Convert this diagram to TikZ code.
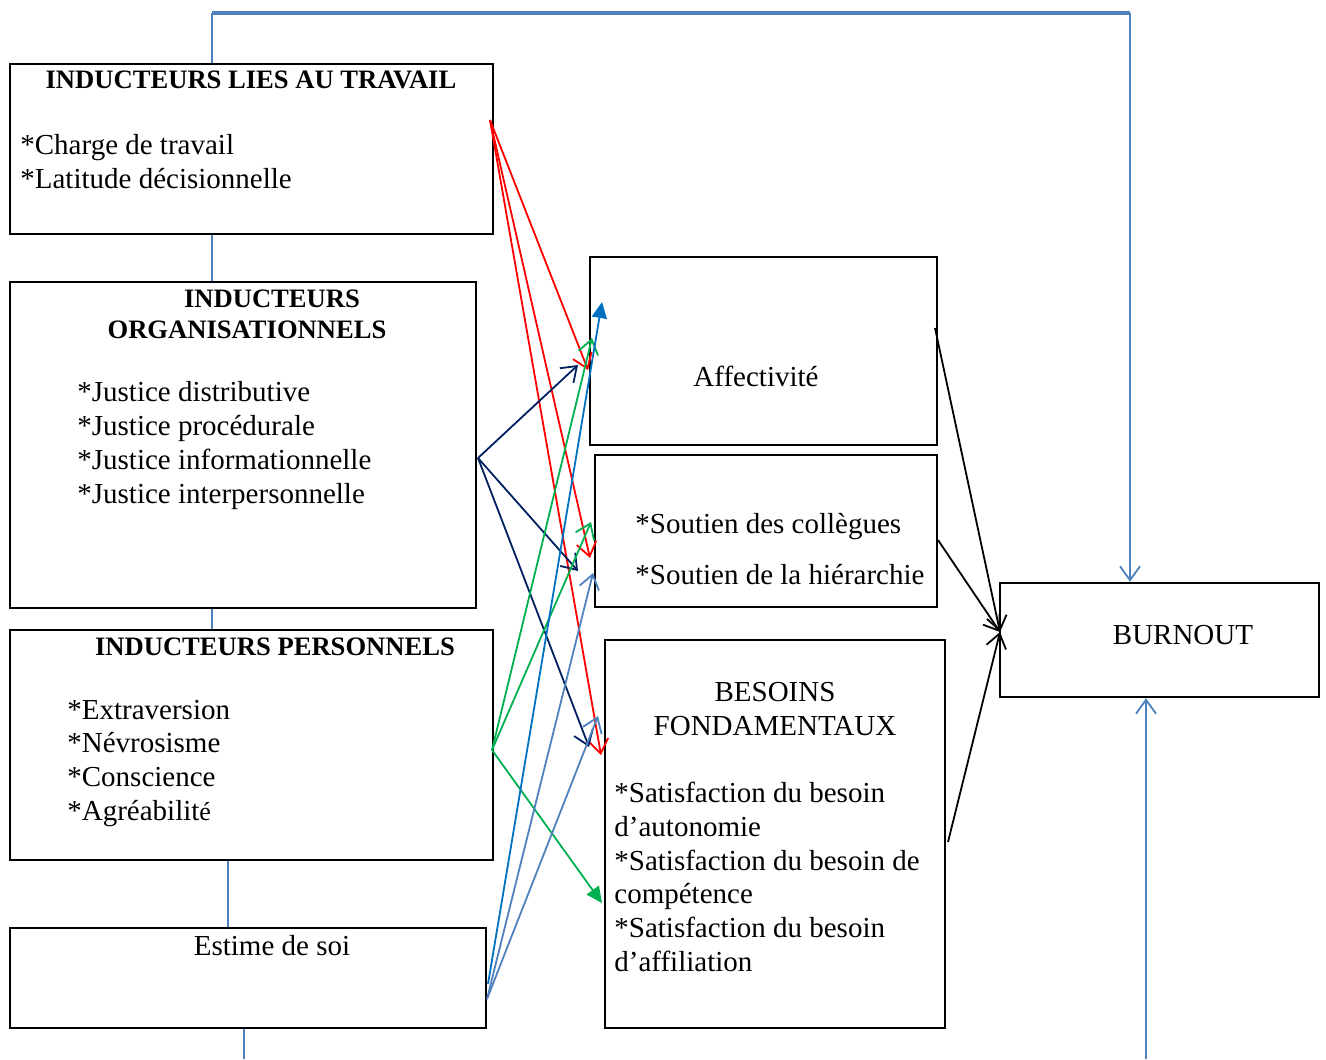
\documentclass[tikz,border=0pt]{standalone}
\usepackage{fontspec}
\setmainfont{Liberation Serif}
\usetikzlibrary{arrows.meta,fit}
\definecolor{cred}{HTML}{FF0000}
\definecolor{cnavy}{HTML}{002060}
\definecolor{cgreen}{HTML}{00B050}
\definecolor{cblue}{HTML}{0070C0}
\definecolor{csteel}{HTML}{4F81BD}

\begin{document}
\begin{tikzpicture}[x=0.5pt, y=-0.5pt,
    box/.style={draw, line width=1.2pt, inner sep=0pt},
    txt/.style={anchor=base west, inner sep=0pt, font=\fontsize{14.5}{17}\selectfont},
    ctr/.style={anchor=base, inner sep=0pt, font=\fontsize{14.5}{17}\selectfont},
    ttl/.style={anchor=base, inner sep=0pt, font=\fontsize{13.3}{16}\selectfont\bfseries},
    openarr/.style={-{Straight Barb[length=7pt,width=10pt]}, line width=0.9pt},
    fullarr/.style={-{Triangle[length=8pt,width=7.5pt]}, line width=0.9pt},
    link/.style={draw=csteel, line width=1pt}]
    \useasboundingbox (0,0) rectangle (1326,1059);

    % boxes
    \node[box, fit={(10,64) (493,234)}] (travail) {};
    \node[box, fit={(10,282) (476,608)}] (orga) {};
    \node[box, fit={(10,630) (493,860)}] (perso) {};
    \node[box, fit={(10,928) (486,1028)}] (estime) {};
    \node[box, fit={(590,257) (937,445)}] (affect) {};
    \node[box, fit={(595,455) (937,607)}] (soutien) {};
    \node[box, fit={(605,640) (945,1028)}] (besoins) {};
    \node[box, fit={(1000,583) (1319,697)}] (burnout) {};

    % texts
    \node[ttl] (t-trav) at (251,89) {INDUCTEURS LIES AU TRAVAIL};
    \node[txt] (t-charge) at (20,155) {*Charge de travail};
    \node[txt] (t-latit) at (20,189) {*Latitude décisionnelle};

    \node[ttl] (t-org1) at (272,307) {INDUCTEURS};
    \node[ttl] (t-org2) at (247,338) {ORGANISATIONNELS};
    \node[txt] (t-jdis) at (77,401) {*Justice distributive};
    \node[txt] (t-jpro) at (77,435) {*Justice procédurale};
    \node[txt] (t-jinf) at (77,469) {*Justice informationnelle};
    \node[txt] (t-jint) at (77,503) {*Justice interpersonnelle};

    \node[ttl] (t-pers) at (275,655) {INDUCTEURS PERSONNELS};
    \node[txt] (t-extra) at (67,719) {*Extraversion};
    \node[txt] (t-nevro) at (67,752) {*Névrosisme};
    \node[txt] (t-consc) at (67,786) {*Conscience};
    \node[txt] (t-agrea) at (67,820) {*Agréabilit{\fontsize{13}{17}\selectfont é}};

    \node[ctr] (t-estime) at (272,955) {Estime de soi};
    \node[ctr] (t-affect) at (756,386) {Affectivité};
    \node[txt] (t-coll) at (635,533) {*Soutien des collègues};
    \node[txt] (t-hier) at (635,584) {*Soutien de la hiérarchie};

    \node[ctr] (t-bes1) at (775,701) {BESOINS};
    \node[ctr] (t-bes2) at (775,735) {FONDAMENTAUX};
    \node[txt] (t-aut1) at (614,802) {*Satisfaction du besoin};
    \node[txt] (t-aut2) at (614,836) {d’autonomie};
    \node[txt] (t-com1) at (614,870) {*Satisfaction du besoin de};
    \node[txt] (t-com2) at (614,903) {compétence};
    \node[txt] (t-aff1) at (614,937) {*Satisfaction du besoin};
    \node[txt] (t-aff2) at (614,971) {d’affiliation};

    \node[ctr] (t-burn) at (1183,644) {BURNOUT};

    % links between the left boxes
    \coordinate (l1) at (212,0);
    \coordinate (l2) at (228,0);
    \coordinate (l3) at (244,1059);
    \draw[link] (l1 |- travail.south) -- (l1 |- orga.north);
    \draw[link] (l1 |- orga.south) -- (l1 |- perso.north);
    \draw[link] (l2 |- perso.south) -- (l2 |- estime.north);
    \draw[link] (l3 |- estime.south) -- (l3);

    % feedback loop to burnout
    \coordinate (fb-l) at (212,13);
    \coordinate (fb-r) at (1130,13);
    \coordinate (fb-b) at (1146,1059);
    \draw[link] (fb-l |- travail.north) -- (fb-l);
    \draw[link, line width=1.6pt] (fb-l) -- (fb-r);
    \draw[link, openarr, draw=csteel] (fb-r) -- (fb-r |- burnout.north);
    \draw[link, openarr, draw=csteel] (fb-b) -- (fb-b |- burnout.south);

    % start points
    \coordinate (s-trav) at (490,120);
    \coordinate (s-org) at (478,458);
    \coordinate (s-pers) at (492,750);
    \coordinate (s-est1) at (488,984);
    \coordinate (s-est2) at (487,999);
    % end points
    \coordinate (e-aff-r) at (588,370);
    \coordinate (e-sou-r) at (590,558);
    \coordinate (e-bes-r) at (601,755);
    \coordinate (e-aff-n) at (578,365);
    \coordinate (e-sou-n) at (578,571);
    \coordinate (e-bes-n) at (589,747);
    \coordinate (e-aff-g) at (592,338);
    \coordinate (e-sou-g) at (591,522);
    \coordinate (e-bes-g) at (602,903);
    \coordinate (e-aff-b) at (602,302);
    \coordinate (e-sou-s) at (593,573);
    \coordinate (e-bes-s) at (598,716);

    \draw[openarr, cred] (s-trav) -- (e-aff-r);
    \draw[openarr, cred] (s-trav) -- (e-sou-r);
    \draw[openarr, cred] (s-trav) -- (e-bes-r);

    \draw[openarr, cnavy] (s-org) -- (e-aff-n);
    \draw[openarr, cnavy] (s-org) -- (e-sou-n);
    \draw[openarr, cnavy] (s-org) -- (e-bes-n);

    \draw[openarr, cgreen] (s-pers) -- (e-aff-g);
    \draw[openarr, cgreen] (s-pers) -- (e-sou-g);
    \draw[fullarr, cgreen] (s-pers) -- (e-bes-g);

    \draw[fullarr, cblue] (s-est1) -- (e-aff-b);
    \draw[openarr, csteel] (s-est2) -- (e-sou-s);
    \draw[openarr, csteel] (s-est2) -- (e-bes-s);

    % towards burnout
    \coordinate (bo-in) at (1000,632);
    \coordinate (o-aff) at (935,328);
    \coordinate (o-sou) at (938,540);
    \coordinate (o-bes) at (948,842);
    \draw[openarr] (o-aff) -- (bo-in);
    \draw[openarr] (o-sou) -- (bo-in);
    \draw[openarr] (o-bes) -- (bo-in);
\end{tikzpicture}
\end{document}
